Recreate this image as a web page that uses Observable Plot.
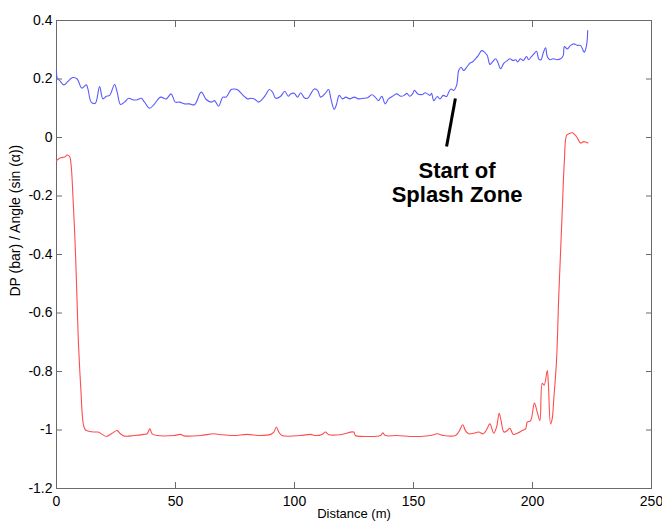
<!DOCTYPE html>
<html>
<head>
<meta charset="utf-8">
<script src="https://cdn.jsdelivr.net/npm/d3@7"></script>
<script src="https://cdn.jsdelivr.net/npm/@observablehq/plot@0.6"></script>
<style>
  html, body { margin: 0; padding: 0; background: #fff; }
  #chart { width: 662px; height: 521px; overflow: hidden; }
</style>
</head>
<body>
<div id="chart"></div>
<script>
// Axis ticks
const xTicks = [0, 50, 100, 150, 200, 250];
const yTicks = [-1.2, -1, -0.8, -0.6, -0.4, -0.2, 0, 0.2, 0.4];

// Angle trace (sin α) along the line
const angleDist = [0,0.3,1.3,3.1,4.7,6.8,8.7,10.6,12.5,13.2,14.6,16.3,18.1,19.5,20.9,22.3,24.4,25.5,26.9,28.6,30.3,32.1,33.9,35.6,37,39.1,41.2,43.7,46.1,48.2,49.9,51.7,53.8,55.9,58,60.8,62.9,65,66.4,68.1,69.9,71.3,73.4,74.8,
  76.1,78.2,80.3,81.6,83.1,84.9,86.6,87.9,89.4,90.8,92.1,94.2,95.9,97.4,98.4,99.9,101.3,102.6,104.1,105.5,106.8,108.3,109.7,111,112.9,114.3,115.3,116.7,117.6,118.8,120.2,121.6,123.2,125.1,126.9,128.9,130.7,132.5,133.9,135.3,136.7,138.1,139.5,141.2,142.9,144.7,146.1,147.2,148.4,
  149.6,150.4,151.8,153.7,155,156.9,157.6,158.5,160,161.1,162.5,163.9,164.8,165.8,166.9,168.1,169,170,171.1,172.3,173.7,174.7,176,177.2,178.6,179.8,181,182.1,183.1,184.5,185.4,186.6,188,189.4,190.5,191.9,193,193.8,194.9,196.1,197.5,198.4,199.6,200.6,201.7,202.6,203.6,204.5,205.5,206.2,207.3,208.7,210.4,211.8,212.9,213.4,214.6,216,217.4,218.8,220.2,221.3,221.8,222.7,223.2];
const angleVal = [0.232,0.203,0.195,0.18,0.191,0.205,0.2,0.169,0.18,0.166,0.121,0.117,0.174,0.132,0.141,0.144,0.181,0.155,0.113,0.121,0.134,0.129,0.129,0.134,0.121,0.1,0.115,0.138,0.132,0.149,0.121,0.121,0.115,0.115,0.112,0.155,0.13,0.121,0.126,0.107,0.138,0.138,0.164,0.166,
  0.163,0.146,0.132,0.134,0.132,0.121,0.132,0.146,0.164,0.155,0.134,0.141,0.158,0.141,0.149,0.151,0.138,0.153,0.136,0.134,0.149,0.166,0.161,0.138,0.151,0.164,0.132,0.096,0.112,0.144,0.132,0.138,0.132,0.138,0.132,0.134,0.136,0.146,0.138,0.126,0.141,0.115,0.132,0.141,0.149,0.141,0.144,0.151,0.141,
  0.149,0.161,0.149,0.147,0.153,0.144,0.151,0.126,0.14,0.132,0.144,0.14,0.155,0.166,0.161,0.178,0.229,0.24,0.229,0.24,0.254,0.258,0.269,0.28,0.297,0.292,0.28,0.25,0.258,0.269,0.258,0.235,0.254,0.263,0.269,0.263,0.266,0.258,0.269,0.263,0.277,0.266,0.277,0.286,0.295,0.269,0.266,0.289,0.307,0.277,0.266,0.269,0.266,0.269,0.28,0.311,0.303,0.315,0.32,0.315,0.315,0.297,0.292,0.315,0.366];

// Differential pressure trace (bar)
const dpDist = [0,1.7,3.4,4.5,5.5,6.2,6.9,7.5,8,8.6,9.2,9.8,10.3,10.8,11.4,12.2,13.6,15.7,17.5,19.2,21,23.4,25.5,26.9,28.6,32.5,36.7,38.1,39.2,40.2,42.3,49.3,52.1,53.5,60.5,66.1,68.9,74.5,80.1,85.7,89.9,91.3,92.4,93.4,94.8,102.5,106.7,108.8,111.6,113,114.4,119.3,124.9,125.6,129.1,136.1,137.1,138.2,143.1,148.7,152.9,157.1,160,162.7,167.6,169,170.7,171.8,173.2,175.3,177.4,179.3,180.7,182.1,183.7,184.9,186,186.8,188,189.4,190.5,191.9,193.6,195.7,197.1,197.8,199.2,200.8,202,203.1,204.1,204.9,206.2,206.7,207.6,208.3,208.9,210.1,211,212,212.5,213.4,214.3,215.3,216.7,218.1,219,220.2,221.6,222.5,223.3];
const dpVal = [-0.079,-0.069,-0.067,-0.06,-0.065,-0.1,-0.2,-0.3,-0.4,-0.55,-0.7,-0.8,-0.87,-0.945,-0.985,-1.0,-1.004,-1.007,-1.007,-1.015,-1.022,-1.011,-1.002,-1.013,-1.021,-1.019,-1.015,-1.013,-0.996,-1.013,-1.019,-1.019,-1.015,-1.02,-1.019,-1.013,-1.016,-1.019,-1.015,-1.019,-1.015,-1.007,-0.99,-1.007,-1.019,-1.019,-1.015,-1.019,-1.015,-1.007,-1.016,-1.016,-1.007,-1.019,-1.022,-1.019,-1.01,-1.019,-1.019,-1.022,-1.022,-1.019,-1.013,-1.019,-1.019,-1.007,-0.982,-1.002,-1.013,-1.011,-1.007,-1.013,-0.999,-0.979,-1.011,-0.99,-0.943,-0.968,-1.007,-1.002,-0.994,-1.015,-1.011,-1.002,-0.996,-0.973,-0.968,-0.908,-0.939,-0.968,-0.84,-0.847,-0.797,-0.85,-0.979,-0.96,-0.899,-0.762,-0.55,-0.35,-0.25,-0.079,0.007,0.013,0.016,0.007,-0.004,-0.019,-0.014,-0.016,-0.019];

// Annotation: pointer and text
const pointerX = [167.6, 163.9];
const pointerY = [0.133, -0.031];
const noteX = [168.3];
const noteY = [-0.080];
const noteText = ["Start of\nSplash Zone"];

const xLabel = "Distance (m)";
const yLabel = "DP (bar) / Angle (sin (\u03b1))";

const angle = angleDist.map((d, i) => ({d, v: angleVal[i]}));
const dp = dpDist.map((d, i) => ({d, v: dpVal[i]}));
const fmt = d => String(d);
const axisGrey = "#6a6a6a";

const chart = Plot.plot({
  width: 662,
  height: 521,
  marginLeft: 56,
  marginRight: 11,
  marginTop: 20,
  marginBottom: 33,
  x: {domain: [0, 250], label: null},
  y: {domain: [-1.2, 0.4], label: null},
  style: {
    fontFamily: "Arial, 'Liberation Sans', Helvetica, sans-serif",
    fontSize: "14px",
    color: "black",
    background: "white"
  },
  marks: [
    Plot.frame({stroke: axisGrey, strokeWidth: 1}),
    Plot.axisX(xTicks, {anchor: "bottom", tickSize: -6, tickPadding: 14, tickFormat: fmt, stroke: axisGrey, fill: "black", label: null}),
    Plot.axisX(xTicks, {anchor: "top", tickSize: -6, tickFormat: () => "", stroke: axisGrey, label: null}),
    Plot.axisY(yTicks, {anchor: "left", tickSize: -6, tickPadding: 10, tickFormat: fmt, stroke: axisGrey, fill: "black", label: null}),
    Plot.axisY(yTicks, {anchor: "right", tickSize: -6, tickFormat: () => "", stroke: axisGrey, label: null}),
    Plot.line(angle, {x: "d", y: "v", stroke: "#5a5aff", strokeWidth: 1.1, curve: "catmull-rom"}),
    Plot.line(dp, {x: "d", y: "v", stroke: "#ff4d4d", strokeWidth: 1.1, curve: "catmull-rom"}),
    Plot.link([0], {x1: () => pointerX[0], y1: () => pointerY[0], x2: () => pointerX[1], y2: () => pointerY[1], stroke: "black", strokeWidth: 3}),
    Plot.text(noteText, {x: () => noteX[0], y: () => noteY[0], text: d => d, fontSize: 22, fontWeight: "bold", lineAnchor: "top", lineHeight: 1.1, textAnchor: "middle", fill: "black"}),
    Plot.text([xLabel], {frameAnchor: "bottom", dy: 29, text: d => d, fontSize: 13, fill: "black"}),
    Plot.text([yLabel], {frameAnchor: "left", dx: -41, dy: 42, rotate: -90, text: d => d, fontSize: 14, fill: "black"})
  ]
});

document.getElementById("chart").appendChild(chart);
</script>
</body>
</html>
